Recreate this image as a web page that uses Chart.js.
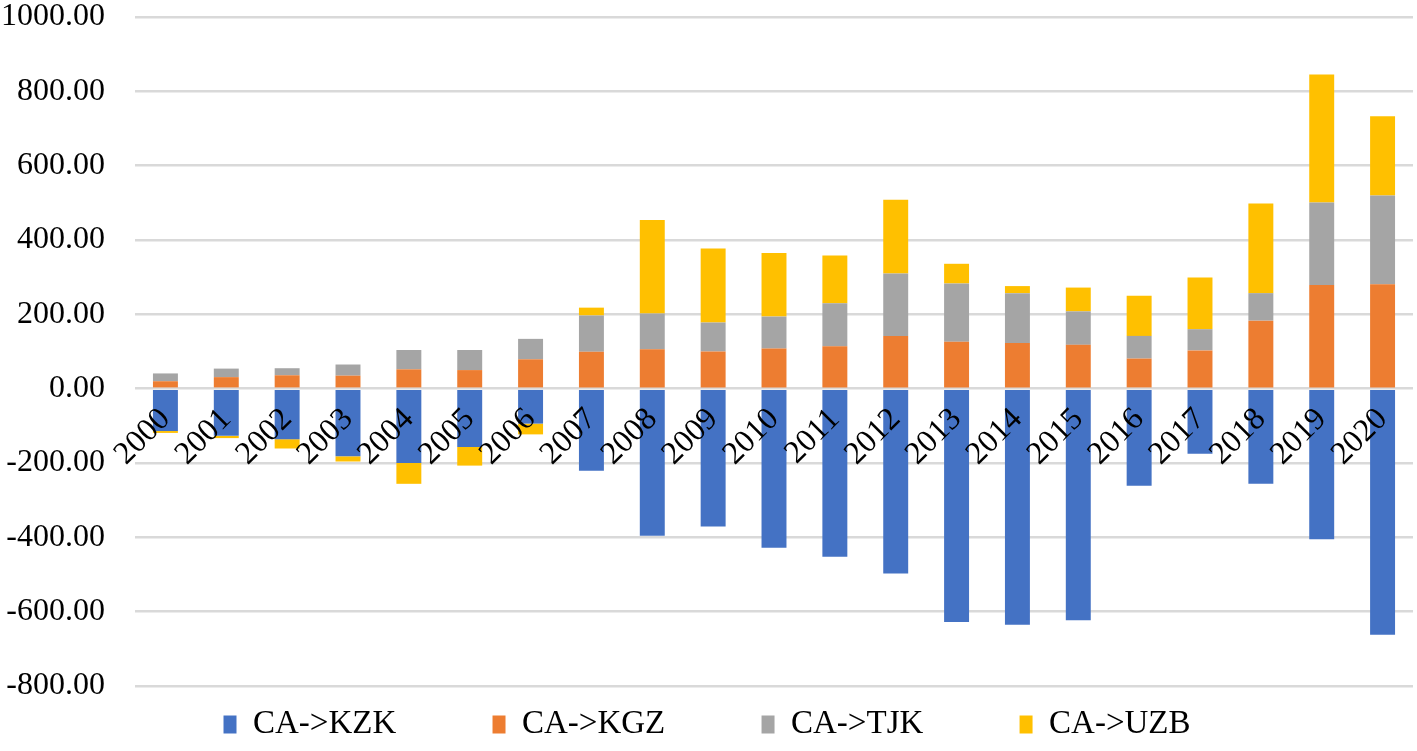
<!DOCTYPE html>
<html>
    <head>
        <title>CA trade balance</title>
        <style>
            html, body { margin: 0; padding: 0; background: #fff; overflow: hidden; }
        </style>
    </head>
    <body>
        <canvas id="chartCanvas" width="1417" height="751"></canvas>

        <script src="https://cdn.jsdelivr.net/npm/chart.js@4/dist/chart.umd.min.js"></script>
        <script>
        var years = ["2000", "2001", "2002", "2003", "2004", "2005", "2006", "2007", "2008", "2009", "2010",
                     "2011", "2012", "2013", "2014", "2015", "2016", "2017", "2018", "2019", "2020"];
        var seriesNames = ["CA->KZK", "CA->KGZ", "CA->TJK", "CA->UZB"];
        var kzk = [-114, -127, -136, -182, -200, -157, -94, -221, -396, -371, -428,
                   -452, -497, -628, -635, -623, -261, -175, -256, -405, -662];
        var kgz = [20, 31, 36, 35, 52, 50, 79, 99, 106, 100, 108,
                   114, 142, 126, 123, 118, 81, 103, 183, 279, 281];
        var tjk = [21, 23, 19, 30, 52, 54, 55, 98, 96, 78, 86,
                   116, 168, 157, 134, 90, 61, 57, 74, 222, 239];
        var uzb = [-5, -6, -25, -14, -56, -50, -29, 21, 252, 199, 171,
                   128, 198, 53, 19, 64, 108, 139, 241, 344, 213];
        var colors = ["#4472C4", "#ED7D31", "#A5A5A5", "#FFC000"];

        var serif = "'Liberation Serif', 'Times New Roman', serif";

        var makeSet = function(i, values) {
            return {
                label: seriesNames[i],
                data: values,
                backgroundColor: colors[i],
                borderWidth: 0,
                barPercentage: 0.41,
                categoryPercentage: 1.0
            };
        };

        var ctx = document.getElementById("chartCanvas").getContext("2d");
        new Chart(ctx, {
            type: "bar",
            data: {
                labels: years,
                datasets: [makeSet(0, kzk), makeSet(1, kgz), makeSet(2, tjk), makeSet(3, uzb)]
            },
            options: {
                responsive: false,
                animation: false,
                layout: { padding: { left: 1, right: 4, top: 0, bottom: 0 } },
                plugins: {
                    tooltip: { enabled: false },
                    legend: {
                        position: "bottom",
                        labels: {
                            color: "#000",
                            font: { family: serif, size: 33 },
                            boxWidth: 13,
                            boxHeight: 18,
                            padding: 22,
                            generateLabels: function(chart) {
                                var items = Chart.defaults.plugins.legend.labels.generateLabels(chart);
                                // widen the gap between items, Excel spreads them out
                                items.forEach(function(item, i) {
                                    if (i < items.length - 1) item.text = item.text + "         ";
                                });
                                return items;
                            }
                        }
                    }
                },
                scales: {
                    x: {
                        stacked: true,
                        position: { y: 0 },
                        grid: { display: false },
                        border: { display: false },
                        ticks: {
                            z: 1,
                            color: "#000",
                            font: { family: serif, size: 32 },
                            minRotation: 45,
                            maxRotation: 45,
                            autoSkip: false,
                            padding: 4
                        },
                        // labels sit at the zero line, don't let them push the plot area
                        afterFit: function(scale) {
                            scale.paddingLeft = 0;
                            scale.paddingRight = 0;
                            scale.paddingTop = 0;
                            scale.paddingBottom = 0;
                        }
                    },
                    y: {
                        stacked: true,
                        min: -800,
                        max: 1000,
                        border: { display: false },
                        grid: { color: "#D9D9D9", lineWidth: 2.5, drawTicks: false },
                        ticks: {
                            stepSize: 200,
                            color: "#000",
                            font: { family: serif, size: 32 },
                            padding: 30,
                            callback: function(v) { return v.toFixed(2); }
                        },
                        // tick padding is counted twice in the width, trim it back
                        afterFit: function(scale) {
                            scale.width = 134;
                            scale.paddingTop = 17;
                            scale.paddingBottom = 0;
                        }
                    }
                }
            }
        });
        </script>
    </body>
</html>
